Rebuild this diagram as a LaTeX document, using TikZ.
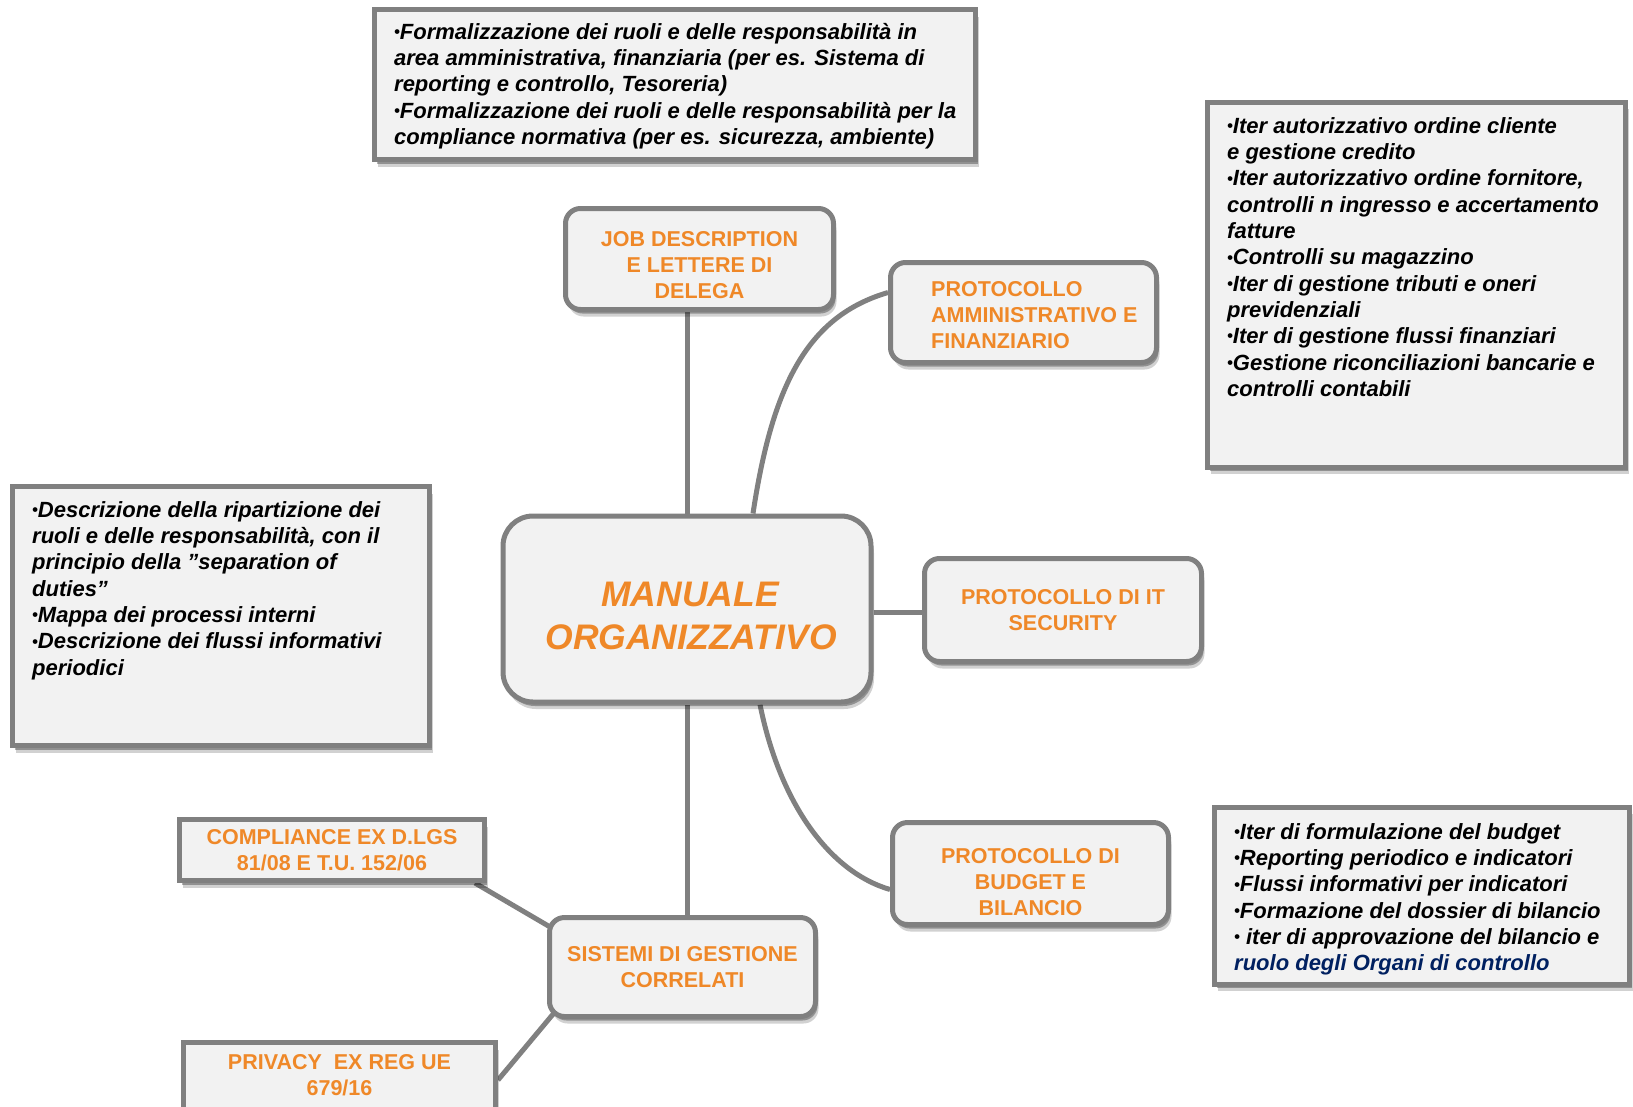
\documentclass[tikz,border=0pt]{standalone}
\usepackage{fontspec}
\setmainfont{Liberation Sans}
\usepackage{graphicx}
\usetikzlibrary{shadows,backgrounds,calc}
\definecolor{orng}{RGB}{239,136,40}
\definecolor{bordergray}{RGB}{128,128,128}
\definecolor{boxfill}{RGB}{242,242,242}
\definecolor{navy}{RGB}{0,32,96}
\newcommand\bul{\raisebox{0.08em}{\scalebox{0.75}{•}}}
\newcommand\fs{\rule{0pt}{0.9em}}
\tikzset{
  txtbox/.style={draw=bordergray, line width=5pt, fill=boxfill,
    drop shadow={shadow xshift=3pt, shadow yshift=-7pt, opacity=0.18, fill=black},
    drop shadow={shadow xshift=2pt, shadow yshift=-4pt, opacity=0.3, fill=black}},
  rbox/.style={txtbox, rounded corners=15pt},
  lbl/.style={font=\fontsize{21.5}{26}\selectfont\bfseries, text=orng, align=center},
  bodytext/.style={font=\fontsize{22}{26.3}\selectfont\bfseries\itshape, align=left, anchor=north west, inner sep=0pt},
  conn/.style={draw=bordergray, line width=5pt},
}
\begin{document}
\begin{tikzpicture}[x=1pt,y=-1pt]
\useasboundingbox (0,0) rectangle (1633,1106);
\begin{pgfonlayer}{background}
\fill[white] (0,0) rectangle (1633,1106);
\end{pgfonlayer}

% text boxes
\node[txtbox, minimum width=601pt, minimum height=150pt] (topbox) at (675,84.5) {};
\node[bodytext] (topboxtext) at (394,19.3) {\fs\bul Formalizzazione dei ruoli e delle responsabilità in\\
area amministrativa, finanziaria (per es. Sistema di\\
reporting e controllo, Tesoreria)\\
\bul Formalizzazione dei ruoli e delle responsabilità per la\\
compliance normativa (per es. sicurezza, ambiente)};

\node[txtbox, minimum width=418pt, minimum height=365pt] (rightbox) at (1416.5,284.5) {};
\node[bodytext] (rightboxtext) at (1227,113.3) {\fs\bul Iter autorizzativo ordine cliente\\
e gestione credito\\
\bul Iter autorizzativo ordine fornitore,\\
controlli n ingresso e accertamento\\
fatture\\
\bul Controlli su magazzino\\
\bul Iter di gestione tributi e oneri\\
previdenziali\\
\bul Iter di gestione flussi finanziari\\
\bul Gestione riconciliazioni bancarie e\\
controlli contabili};

\node[txtbox, minimum width=417pt, minimum height=259pt] (leftbox) at (221,616) {};
\node[bodytext] (leftboxtext) at (32,497.3) {\fs\bul Descrizione della ripartizione dei\\
ruoli e delle responsabilità, con il\\
principio della ”separation of\\
duties”\\
\bul Mappa dei processi interni\\
\bul Descrizione dei flussi informativi\\
periodici};

\node[txtbox, minimum width=415pt, minimum height=177pt] (budgetbox) at (1422,895.5) {};
\node[bodytext] (budgetboxtext) at (1234,819.3) {\fs\bul Iter di formulazione del budget\\
\bul Reporting periodico e indicatori\\
\bul Flussi informativi per indicatori\\
\bul Formazione del dossier di bilancio\\
\bul\ iter di approvazione del bilancio e\\
\textcolor{navy}{ruolo degli Organi di controllo}};

% central and labels
\node[txtbox, rounded corners=30pt, minimum width=368pt, minimum height=186pt,
  font=\fontsize{35.5}{43}\selectfont\bfseries\itshape, text=orng, align=center] (central) at (687,609) {\rule{0pt}{39pt}\hspace{6pt}MANUALE\\\hspace{8pt}ORGANIZZATIVO};

\node[rbox, lbl, minimum width=268pt, minimum height=101pt] (job) at (699.5,259) {\rule{0pt}{27.5pt}JOB DESCRIPTION\\E LETTERE DI\\DELEGA};
\node[rbox, minimum width=266pt, minimum height=100pt] (protamm) at (1023.5,312.5) {};
\node[lbl, align=left, anchor=west, inner sep=0pt] (protammtext) at (931,315) {PROTOCOLLO\\AMMINISTRATIVO E\\FINANZIARIO};
\node[rbox, lbl, minimum width=277pt, minimum height=103pt] (itsec) at (1063,610) {PROTOCOLLO DI IT\\SECURITY};
\node[rbox, lbl, minimum width=276pt, minimum height=102pt] (budget) at (1030.5,873.5) {\rule{0pt}{31.5pt}PROTOCOLLO DI\\BUDGET E\\BILANCIO};
\node[rbox, lbl, minimum width=266pt, minimum height=99pt] (sistemi) at (682.5,967) {SISTEMI DI GESTIONE\\CORRELATI};
\node[txtbox, lbl, minimum width=305pt, minimum height=61pt] (compliance) at (332,850) {COMPLIANCE EX D.LGS\\81/08 E T.U. 152/06};
\node[txtbox, minimum width=312pt, minimum height=95pt] (privacy) at (339.5,1090) {};
\node[lbl, inner sep=0pt] (privacytext) at (339.5,1075) {PRIVACY \ EX REG UE\\679/16};

% connectors
\begin{pgfonlayer}{background}
\draw[conn] (central) -- (central |- job);
\draw[conn] ([xshift=66pt]central.north) .. controls (772.5,384) and (808,316) .. ([yshift=20pt]protamm.west);
\draw[conn] ([yshift=-3pt]central.east) -- ([yshift=-3pt]central.east -| itsec.west);
\draw[conn] ([xshift=73pt]central.south) .. controls (780,804) and (830,872) .. ([yshift=-16pt]budget.west);
\draw[conn] (central) -- (central |- sistemi);
\draw[conn] ([xshift=-12pt]compliance.south east) -- ([xshift=10pt,yshift=-16pt]sistemi.north west);
\draw[conn] ([yshift=-40pt]privacy.north east) -- ([xshift=12pt,yshift=12pt]sistemi.south west);
\end{pgfonlayer}
\end{tikzpicture}
\end{document}
